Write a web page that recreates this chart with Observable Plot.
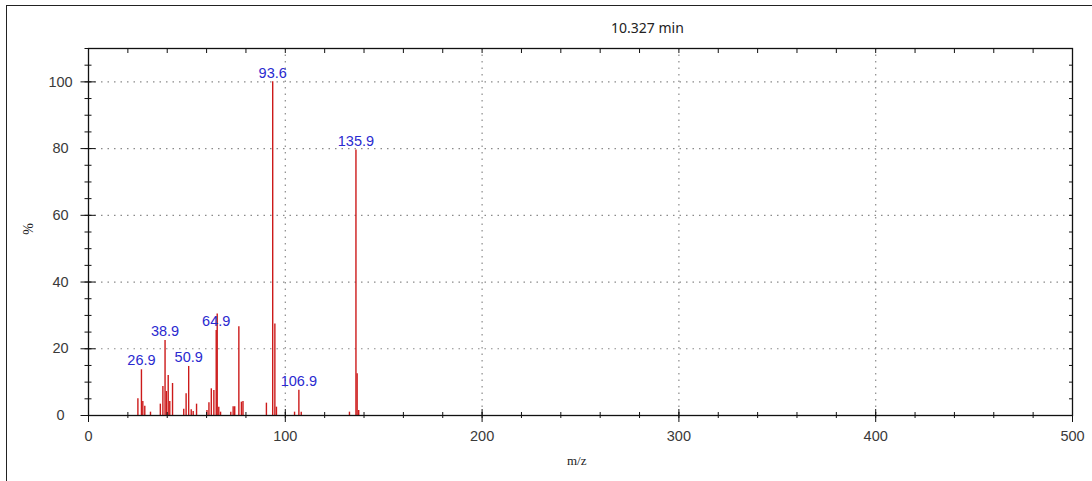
<!DOCTYPE html>
<html>
<head>
<meta charset="utf-8">
<script src="https://cdn.jsdelivr.net/npm/d3@7"></script>
<script src="https://cdn.jsdelivr.net/npm/@observablehq/plot@0.6"></script>
<style>
  html, body { margin: 0; padding: 0; background: #fff; overflow: hidden; }
  #wrap { position: relative; width: 1092px; height: 481px; }
  #border { position: absolute; left: 6px; top: 5px; width: 1200px; height: 600px; border: 1.5px solid #222; box-sizing: border-box; pointer-events: none; }
  #title { position: absolute; left: 611px; top: 18px; font-family: "Noto Sans", "Open Sans", sans-serif; font-size: 14px; color: #222; }
  #ylab { position: absolute; left: 23px; top: 221px; transform: rotate(-90deg); font-family: "Liberation Serif", "DejaVu Serif", serif; font-size: 14px; color: #222; }
  #xlab { position: absolute; left: 567px; top: 453px; font-family: "Liberation Serif", "DejaVu Serif", serif; font-size: 13px; color: #222; }
</style>
</head>
<body>
<div id="wrap">
  <div id="chart"></div>
  <div id="border"></div>
  <div id="title">10.327 min</div>
  <div id="ylab">%</div>
  <div id="xlab">m/z</div>
</div>
<script>
// Peak data (m/z, relative intensity %)
const peakMz = [25.1, 26.9, 27.6, 28.6, 31.5, 36.5, 37.8, 38.9, 39.6, 40.5, 41.3, 42.7,
  48.4, 49.6, 50.9, 52.2, 53.2, 54.9, 60.2, 61.2, 62.4, 63.7, 64.9, 65.4, 66.2, 67.1,
  72.3, 73.5, 74.3, 76.4, 77.7, 78.5, 90.4, 93.6, 94.7, 95.5, 104.7, 106.9, 108.1,
  132.6, 135.9, 136.5, 137.3];
const peakPct = [5.0, 13.7, 4.2, 2.8, 1.0, 3.4, 8.7, 22.5, 7.2, 12.0, 4.2, 9.6,
  1.9, 6.5, 14.7, 1.7, 1.2, 3.4, 1.5, 3.8, 8.0, 7.5, 25.5, 30.4, 2.5, 1.0,
  1.0, 2.6, 2.6, 26.6, 4.0, 4.2, 3.7, 100, 27.4, 2.5, 1.0, 7.6, 1.0,
  1.0, 79.6, 12.5, 1.5];
// Labelled peaks
const labelMz = [26.9, 38.9, 50.9, 64.9, 93.6, 106.9, 135.9];
const labelPct = [13.7, 22.5, 14.7, 25.5, 100, 7.6, 79.6];
// Tick values
const xTickLabels = [0, 100, 200, 300, 400, 500];
const xMinorTicks = d3.range(0, 501, 20);
const yTickLabels = [0, 20, 40, 60, 80, 100];
const yMinorTicks = d3.range(0, 111, 5);
const xGrid = [100, 200, 300, 400];
const yGrid = [20, 40, 60, 80, 100];

const peaks = peakMz.map((mz, i) => ({mz, pct: peakPct[i]}));
const labels = labelMz.map((mz, i) => ({mz, pct: labelPct[i], text: mz.toFixed(1)}));

const chart = Plot.plot({
  width: 1092,
  height: 481,
  marginLeft: 88,
  marginRight: 20,
  marginTop: 48,
  marginBottom: 66,
  x: {domain: [0, 500]},
  y: {domain: [0, 110]},
  style: {fontFamily: "'Liberation Sans', Arial, sans-serif", fontSize: "14px", background: "transparent", overflow: "visible"},
  marks: [
    Plot.gridY(yGrid, {stroke: "#8a8a8a", strokeOpacity: 1, strokeDasharray: "1.5,5", strokeWidth: 1.2}),
    Plot.gridX(xGrid, {stroke: "#8a8a8a", strokeOpacity: 1, strokeDasharray: "1.5,5", strokeWidth: 1.2}),
    Plot.ruleX(peaks, {x: "mz", y1: 0, y2: "pct", stroke: "#cc1a1a", strokeWidth: 1.4}),
    Plot.text(labels, {x: "mz", y: "pct", text: "text", dy: -9, fill: "#2a2ad0", fontSize: 14.5}),
    Plot.frame({stroke: "#111", strokeWidth: 1.3}),
    // bottom axis: minor crossing ticks, major crossing ticks, labels
    Plot.axisX(xMinorTicks, {anchor: "bottom", tickSize: 6, dy: -3, tickFormat: () => "", label: null, stroke: "#111"}),
    Plot.axisX(xTickLabels, {anchor: "bottom", tickSize: 13, dy: -6, tickFormat: () => "", label: null, stroke: "#111"}),
    Plot.axisX(xTickLabels, {anchor: "bottom", tickSize: 0, tickPadding: 15, label: null, fill: "#3a3a3a", fontSize: 14.5}),
    // top axis ticks pointing down
    Plot.axisX(xMinorTicks, {anchor: "top", tickSize: 4, dy: 4, tickFormat: () => "", label: null, stroke: "#111"}),
    // left axis
    Plot.axisY(yMinorTicks, {anchor: "left", tickSize: 7, dx: 3.5, tickFormat: () => "", label: null, stroke: "#111"}),
    Plot.axisY(yTickLabels, {anchor: "left", tickSize: 15, dx: 7.5, tickFormat: () => "", label: null, stroke: "#111"}),
    Plot.axisY(yTickLabels, {anchor: "left", tickSize: 0, tickPadding: 28, textAnchor: "middle", label: null, fill: "#3a3a3a", fontSize: 14.5}),
    // right axis ticks pointing left
    Plot.axisY(yMinorTicks, {anchor: "right", tickSize: 4, dx: -4, tickFormat: () => "", label: null, stroke: "#111"})
  ]
});
document.getElementById("chart").appendChild(chart);
</script>
</body>
</html>
